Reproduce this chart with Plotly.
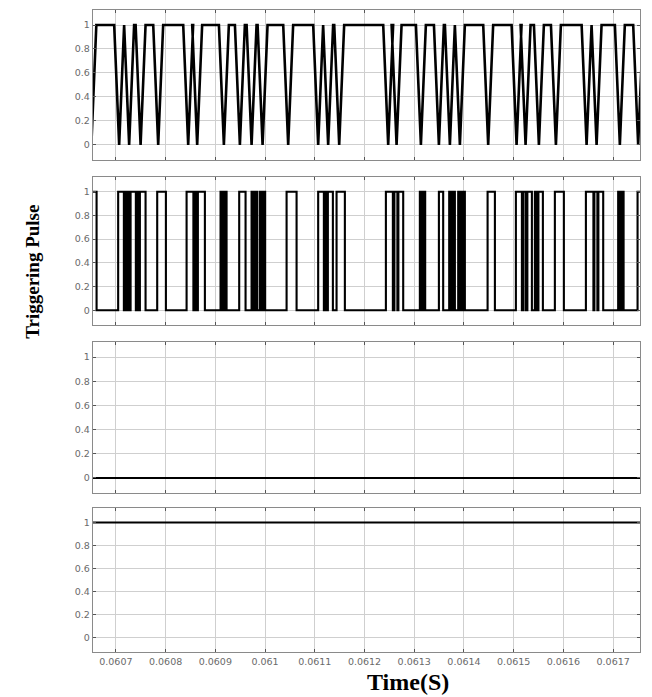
import plotly.graph_objects as go

# ---------------- data ----------------
X_RANGE = [0.060654, 0.061754]
X_TICKS = [0.0607, 0.0608, 0.0609, 0.0610, 0.0611, 0.0612, 0.0613, 0.0614, 0.0615, 0.0616, 0.0617]
X_TICK_TEXT = ["0.0607", "0.0608", "0.0609", "0.061", "0.0611", "0.0612", "0.0613",
               "0.0614", "0.0615", "0.0616", "0.0617"]
Y_TICKS = [0, 0.2, 0.4, 0.6, 0.8, 1]
Y_TICK_TEXT = ["0", "0.2", "0.4", "0.6", "0.8", "1"]

# Panel 1: sampled signal, value 1 except single samples at 0 (times of the 0 samples)
DIP_TIMES = [0.0606507, 0.0607066, 0.0607267, 0.0607497, 0.0607851, 0.0608454, 0.0608635,
             0.0609172, 0.0609494, 0.0609729, 0.0609950, 0.0610465, 0.0611068, 0.0611269,
             0.0611491, 0.0612476, 0.0612645, 0.0613134, 0.0613496, 0.0613717, 0.0613918,
             0.0614487, 0.0615058, 0.0615239, 0.0615507, 0.0615849, 0.0616466, 0.0616667,
             0.0617135, 0.0617503]
SAMPLE_STEP = 0.00001

# Panel 2: pulse train (start / end times of the high pulses)
PULSE_START = [0.0606477, 0.0607046, 0.0607187, 0.0607235, 0.0607296, 0.0607428, 0.0607483,
               0.0607831, 0.0608422, 0.0608585, 0.0608649, 0.0609105, 0.0609156, 0.0609202,
               0.0609480, 0.0609729, 0.0609781, 0.0609821, 0.0609896, 0.0609946, 0.0609986,
               0.0610433, 0.0611068, 0.0611213, 0.0611263, 0.0611438, 0.0612430, 0.0612601,
               0.0612681, 0.0613113, 0.0613164, 0.0613200, 0.0613496, 0.0613703, 0.0613757,
               0.0613797, 0.0613884, 0.0613938, 0.0613988, 0.0614475, 0.0615044, 0.0615195,
               0.0615275, 0.0615426, 0.0615497, 0.0615828, 0.0616452, 0.0616623, 0.0616703,
               0.0617101, 0.0617156, 0.0617190, 0.0617491]
PULSE_END = [0.0606612, 0.0607161, 0.0607215, 0.0607267, 0.0607402, 0.0607456, 0.0607597,
             0.0608006, 0.0608559, 0.0608625, 0.0608790, 0.0609136, 0.0609182, 0.0609226,
             0.0609608, 0.0609761, 0.0609801, 0.0609842, 0.0609926, 0.0609966, 0.0610002,
             0.0610634, 0.0611183, 0.0611243, 0.0611364, 0.0611605, 0.0612570, 0.0612661,
             0.0612778, 0.0613144, 0.0613184, 0.0613220, 0.0613582, 0.0613737, 0.0613777,
             0.0613817, 0.0613918, 0.0613968, 0.0614018, 0.0614622, 0.0615165, 0.0615245,
             0.0615366, 0.0615466, 0.0615587, 0.0616009, 0.0616603, 0.0616683, 0.0616800,
             0.0617135, 0.0617176, 0.0617210, 0.0617650]

# Panels 3 and 4: constant levels
LEVEL_3 = 0
LEVEL_4 = 1
T_START = 0.06064
T_END = 0.06177

# ---------------- build traces ----------------
x1, y1 = [T_START], [1]
for t in DIP_TIMES:
    x1 += [t - SAMPLE_STEP, t, t + SAMPLE_STEP]
    y1 += [1, 0, 1]
x1.append(T_END)
y1.append(1)

x2, y2 = [T_START], [0]
for s, e in zip(PULSE_START, PULSE_END):
    x2 += [s, s, e, e]
    y2 += [0, 1, 1, 0]
x2.append(T_END)
y2.append(0)

fig = go.Figure()
fig.add_trace(go.Scatter(x=x1, y=y1, mode="lines", line=dict(color="black", width=2.6),
                         xaxis="x", yaxis="y"))
fig.add_trace(go.Scatter(x=x2, y=y2, mode="lines", line=dict(color="black", width=2.1),
                         xaxis="x2", yaxis="y2"))
fig.add_trace(go.Scatter(x=[T_START, T_END], y=[LEVEL_3, LEVEL_3], mode="lines",
                         line=dict(color="black", width=2), xaxis="x3", yaxis="y3"))
fig.add_trace(go.Scatter(x=[T_START, T_END], y=[LEVEL_4, LEVEL_4], mode="lines",
                         line=dict(color="black", width=2), xaxis="x4", yaxis="y4"))

domains = [[0.7664, 1.0], [0.5093, 0.7399], [0.2477, 0.4829], [0.0, 0.2243]]
tick_font = dict(family="DejaVu Sans", size=9.5, color="#6a6a6a")
layout = {}
for i, dom in enumerate(domains, start=1):
    sx = "" if i == 1 else str(i)
    layout["xaxis" + sx] = dict(
        domain=[0, 1], anchor="y" + sx, range=X_RANGE, tickvals=X_TICKS,
        ticktext=X_TICK_TEXT, showticklabels=(i == 4), showgrid=True,
        gridcolor="#cfcfcf", gridwidth=1.2, zeroline=False, showline=True,
        linecolor="#8a8a8a", linewidth=1.4, mirror="ticks", ticks="inside",
        ticklen=3, tickcolor="#555555", tickfont=tick_font,
    )
    layout["yaxis" + sx] = dict(
        domain=dom, anchor="x" + sx, range=[-0.125, 1.125], tickvals=Y_TICKS,
        ticktext=Y_TICK_TEXT, showgrid=True, gridcolor="#cfcfcf", gridwidth=1.2,
        zeroline=False, showline=True, linecolor="#8a8a8a", linewidth=1.4,
        mirror="ticks", ticks="inside", ticklen=3, tickcolor="#555555",
        tickfont=tick_font,
    )

fig.update_layout(
    width=644, height=689, showlegend=False,
    margin=dict(l=85, r=12, t=2, b=45),
    paper_bgcolor="white", plot_bgcolor="white",
    annotations=[
        dict(text="<b>Triggering Pulse</b>", xref="paper", yref="paper",
             x=-0.11, y=0.592, xanchor="center", yanchor="middle", textangle=-90,
             showarrow=False, font=dict(family="Liberation Serif", size=19, color="black")),
        dict(text="<b>Time(S)</b>", xref="paper", yref="paper",
             x=0.576, y=-0.047, xanchor="center", yanchor="middle",
             showarrow=False, font=dict(family="Liberation Serif", size=24, color="black")),
    ],
    **layout,
)

fig.write_html("out.html")
